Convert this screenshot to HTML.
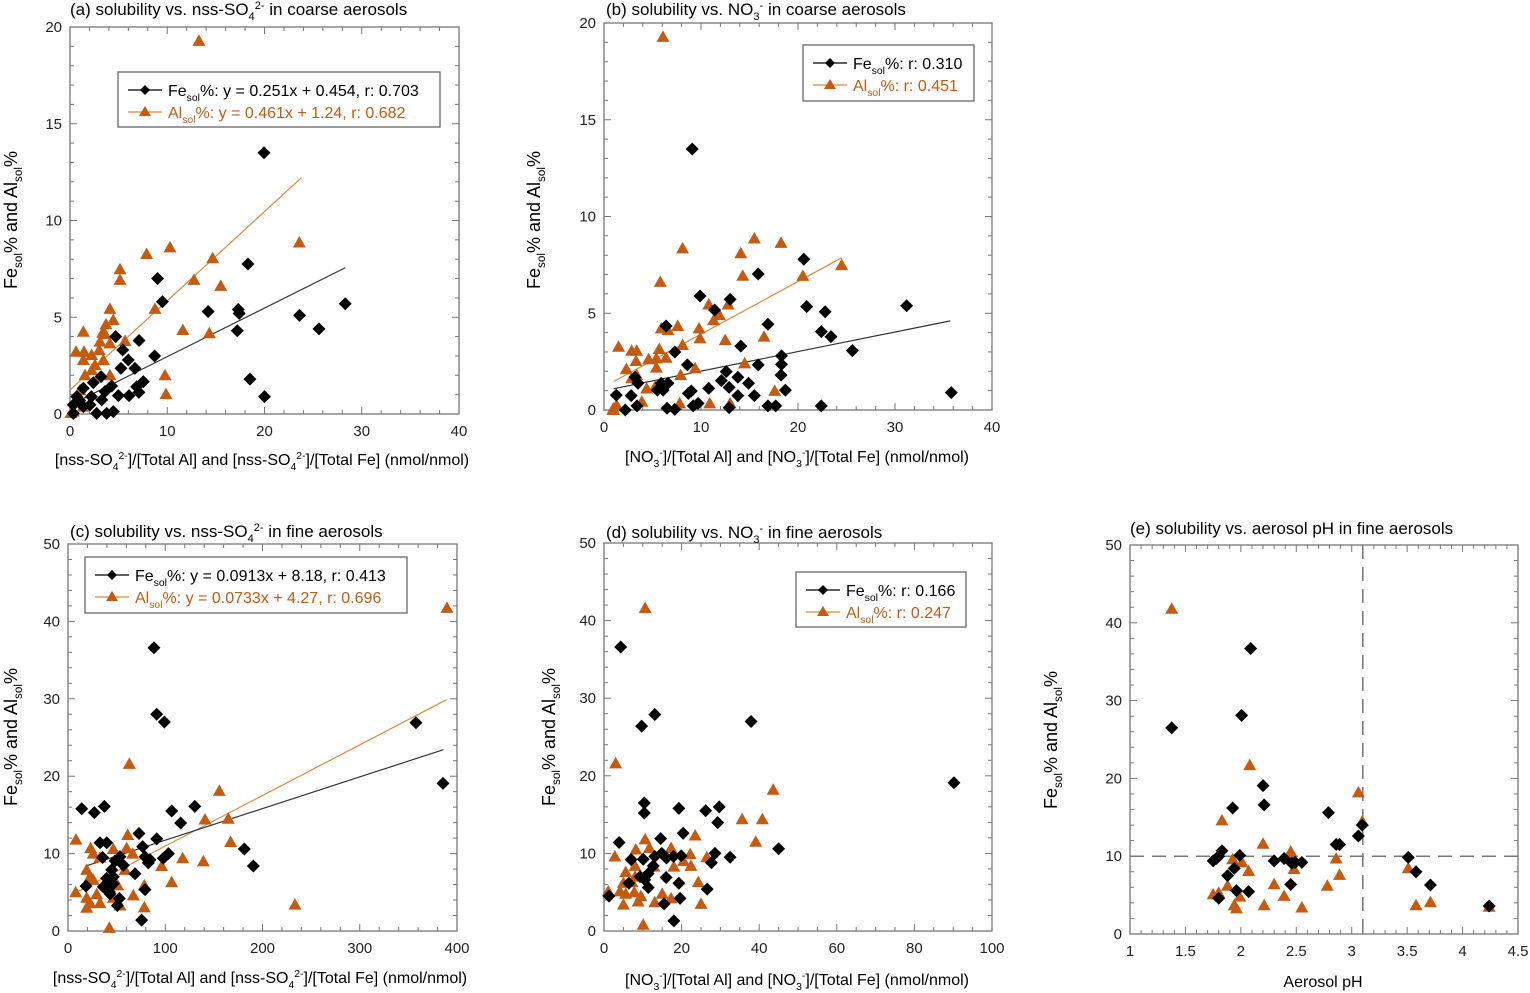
<!DOCTYPE html>
<html><head><meta charset="utf-8"><style>
html,body{margin:0;padding:0;background:#fff;}
svg{display:block;font-family:"Liberation Sans",Arial,sans-serif;}
</style></head><body>
<svg id="fig" width="1530" height="993" viewBox="0 0 1530 993" xmlns="http://www.w3.org/2000/svg"></svg>
<script>
// ---------- DATA ----------
const aFeX=[19.95,18.3,9.0,9.5,14.2,17.3,17.4,17.2,23.6,25.6,28.3,18.5,20,4.7,7.1,8.7,5.42,6.0,6.68,5.24,7.54,6.85,7.09,6.07,4.97,3.19,2.4,1.37,4.28,3.6,0.69,0.34,1.37,2.06,0.34,2.74,3.77,4.45,3.26,1.0,2.2];
const aFeY=[13.5,7.75,7.0,5.8,5.3,5.4,5.2,4.3,5.1,4.4,5.7,1.8,0.9,4.0,3.8,3.0,3.31,2.79,2.36,2.36,1.67,1.41,1.12,0.95,0.95,1.93,1.62,1.33,1.45,1.16,0.9,0.47,0.38,0.47,0.03,0.03,0.03,0.12,0.73,0.7,0.9];
const aAlX=[13.26,10.28,7.88,14.67,23.58,5.14,5.14,12.75,15.5,4.1,8.74,4.45,3.7,1.37,3.36,3.6,4.1,3.08,5.66,3.0,0.62,1.44,2.23,11.6,14.33,1.37,2.57,3.43,2.23,4.11,1.54,9.77,9.87,1.03,0.86,1.37,0.34,0.1];
const aAlY=[19.28,8.61,8.27,8.05,8.86,7.48,6.93,6.93,6.62,5.43,5.43,4.86,4.63,4.25,4.2,4.13,3.65,3.74,3.77,3.31,3.22,3.22,3.05,4.34,4.17,2.79,2.53,2.79,2.27,2.0,2.0,2.0,1.03,1.23,0.71,0.38,0.12,0.05];
const aFit=[[0.251,0.454,0,28.3],[0.461,1.24,0,23.8]];
const bFeX=[9.1,20.6,15.9,9.9,11.4,13.0,20.9,22.8,31.2,16.9,22.4,23.4,25.6,6.4,7.3,14.1,8.6,15.9,18.3,18.3,18.25,12.6,13.8,12.1,14.9,10.8,12.9,18.7,13.8,15.5,9.0,8.7,5.5,3.5,3.2,1.27,2.8,2.2,3.4,6.5,7.3,9.2,9.7,12.9,16.9,17.7,22.4,35.8,6.1,6.6,5.9];
const bFeY=[13.49,7.79,7.03,5.89,5.17,5.72,5.34,5.08,5.39,4.43,4.05,3.79,3.07,4.34,3.0,3.3,2.33,2.33,2.8,2.36,1.8,1.98,1.69,1.52,1.38,1.12,1.17,1.03,0.74,0.74,0.98,0.86,1.03,1.38,1.69,0.77,0.74,0.0,0.21,0.09,0.03,0.21,0.34,0.12,0.21,0.21,0.21,0.9,1.03,1.38,1.38];
const bAlX=[6.08,8.1,5.8,15.5,18.25,14.1,14.3,20.5,24.5,10.8,12.8,11.3,11.9,5.9,6.6,7.6,9.8,9.9,12.5,16.5,8.1,1.5,2.85,3.37,5.7,4.6,5.4,6.4,3.3,5.4,2.3,9.4,14.5,7.9,2.85,3.37,4.4,5.3,17.6,3.9,7.8,10.9,13.0,0.96,1.3,0.96];
const bAlY=[19.28,8.35,6.62,8.86,8.64,8.1,6.94,6.93,7.49,5.45,5.45,4.64,4.9,4.22,4.13,4.34,4.22,3.7,3.61,3.79,3.36,3.27,3.06,3.06,3.15,2.62,2.67,2.7,2.53,2.19,2.12,2.15,2.41,1.8,1.64,1.8,1.11,1.23,0.99,0.43,0.34,0.34,0.34,0.08,0.25,0.0];
const bFit=[[0.101,1.0,1,35.7],[0.272,1.2,1,24.5]];
const cFeX=[88.4,91.2,99.1,14.1,27.1,37.4,106.6,130.4,115.8,73.0,91.2,76.8,32.9,39.8,35.6,53.5,48.4,56.9,44.9,68.9,46.6,41.5,36.3,42.5,52.8,50.7,18.5,79.2,75.7,79.2,84.3,82.6,98.0,103.2,181.3,190.6,39.7,46.6,43.2,357.8,385.6];
const cFeY=[36.6,28.0,27.0,15.8,15.3,16.1,15.5,16.1,13.96,12.6,11.9,10.9,11.4,11.4,9.5,9.6,9.06,8.5,7.9,7.4,7.0,6.35,5.7,5.06,4.2,3.3,5.8,5.35,1.4,9.6,9.2,8.8,9.4,10.0,10.6,8.4,6.8,6.1,4.8,26.9,19.07];
const cAlX=[389.7,63.1,155.6,140.9,164.8,167.2,8.2,23.3,61.4,46.6,60.3,66.5,26.0,32.9,117.9,139.2,96.3,58.6,19.2,22.6,26.0,51.1,78.5,106.6,67.2,78.5,42.5,7.9,19.2,22.6,32.9,19.2,46.6,53.5,233.4,29.5];
const cAlY=[41.75,21.6,18.1,14.4,14.5,11.5,11.8,10.7,12.4,10.6,10.7,10.0,10.0,9.5,9.4,9.0,8.4,7.9,7.9,7.0,6.6,5.9,5.9,6.3,4.6,3.05,0.4,5.0,4.3,3.6,3.6,3.0,4.3,3.3,3.4,4.75];
const cFit=[[0.0409,7.64,18.6,386],[0.0654,4.43,7.2,389]];
const dFeX=[4.3,13.1,9.7,37.9,10.4,10.4,19.3,26.2,29.7,29.3,20.4,45.0,3.9,14.6,7.0,10.1,32.5,28.6,27.7,13.1,14.9,16.1,17.9,19.9,12.7,11.4,10.5,9.3,16.0,6.4,11.4,19.3,26.6,1.3,15.5,19.6,18.0,90.2];
const dFeY=[36.6,27.9,26.4,27.0,16.5,15.2,15.8,15.5,16.0,13.97,12.6,10.6,11.4,11.9,9.2,9.24,9.5,10.0,8.8,9.6,10.0,9.4,9.6,9.7,8.4,7.4,6.6,7.0,6.9,6.15,5.6,6.15,5.4,4.5,3.5,4.2,1.3,19.1];
const dAlX=[10.6,3.0,43.6,35.6,40.8,39.1,23.5,10.6,8.2,11.7,17.3,22.2,26.5,20.5,18.0,22.4,2.8,5.6,8.0,8.0,5.0,7.2,24.3,12.9,1.1,4.1,5.6,8.8,7.8,13.1,15.0,17.3,25.0,5.0,10.1,9.5];
const dAlY=[41.6,21.6,18.2,14.4,14.4,11.5,12.3,11.8,10.5,10.7,10.7,9.9,9.5,9.0,8.3,8.4,9.6,7.6,8.4,7.0,6.2,6.3,6.3,8.3,5.1,5.1,4.8,3.8,5.0,3.7,4.8,4.2,3.5,3.4,0.8,4.5];
const eFeX=[1.376,2.088,2.007,2.2,2.21,1.926,2.79,3.06,3.095,2.86,2.89,1.75,1.78,1.8,1.83,1.99,2.3,2.39,2.46,2.49,2.55,1.94,1.88,2.45,1.96,2.07,1.8,3.51,3.58,3.71,4.24];
const eFeY=[26.5,36.7,28.1,19.07,16.6,16.2,15.6,12.6,14.0,11.5,11.5,9.4,9.7,10.0,10.7,10.1,9.4,9.7,9.1,9.2,9.2,8.44,7.5,6.37,5.58,5.45,4.6,9.85,8.0,6.3,3.6];
const eAlX=[1.376,2.08,3.06,3.095,1.83,2.2,2.45,2.45,1.926,2.01,2.86,2.07,2.48,2.89,1.88,2.3,2.78,1.75,1.8,1.99,2.39,1.94,1.96,2.21,2.55,3.51,3.58,3.71,4.24];
const eAlY=[41.8,21.7,18.2,14.5,14.6,11.6,10.6,10.1,9.6,9.2,9.7,8.1,8.36,7.6,6.2,6.4,6.2,5.1,5.3,4.8,4.9,3.7,3.3,3.7,3.4,8.45,3.7,4.1,3.5];
const eRefX=[3.1];
const eRefY=[10];
// ---------- DRAW ----------
const NS='http://www.w3.org/2000/svg';
const svg=document.getElementById('fig');
const OR='#c55a11', ORL='#e0873a';
function mk(tag,attrs,parent){const e=document.createElementNS(NS,tag);for(const k in attrs)e.setAttribute(k,attrs[k]);(parent||svg).appendChild(e);return e;}
function panel(p){
  const g=mk('g',{});
  
  
  const sx=v=>p.L+(v-p.xmin)/(p.xmax-p.xmin)*(p.R-p.L);
  const sy=v=>p.B-(v-p.ymin)/(p.ymax-p.ymin)*(p.B-p.T);
  p.sx=sx;p.sy=sy;
  const fr=mk('rect',{x:p.L,y:p.T,width:p.R-p.L,height:p.B-p.T,fill:'none',stroke:'#777','stroke-width':1.3},g);
  
  
  const eps=1e-9;
  for(let v=p.xmin;v<=p.xmax+eps;v+=p.xminor){
    const maj=Math.abs(Math.round((v-p.xmin)/p.xmajor)*p.xmajor-(v-p.xmin))<1e-6;
    const len=maj?7:4,x=sx(v);
    mk('line',{x1:x,x2:x,y1:p.B,y2:p.B-len,stroke:'#777'},g);
    mk('line',{x1:x,x2:x,y1:p.T,y2:p.T+len,stroke:'#777'},g);
    if(maj){const t=mk('text',{x:x,y:p.B+22,'text-anchor':'middle','font-size':15,fill:'#222'},g);t.textContent=(+v.toFixed(2)).toString();
      }
  }
  for(let v=p.ymin;v<=p.ymax+eps;v+=p.yminor){
    const maj=Math.abs(Math.round(v/p.ymajor)*p.ymajor-v)<1e-6;
    const len=maj?7:4,y=sy(v);
    mk('line',{x1:p.L,x2:p.L+len,y1:y,y2:y,stroke:'#777'},g);
    mk('line',{x1:p.R,x2:p.R-len,y1:y,y2:y,stroke:'#777'},g);
    if(maj){const t=mk('text',{x:p.L-8,y:y+5,'text-anchor':'end','font-size':15,fill:'#222'},g);t.textContent=Math.round(v).toString();
      }
  }
  return g;
}
function diamonds(p,g,X,Y){for(let i=0;i<X.length;i++){const x=p.sx(X[i]),y=p.sy(Y[i]);
  const d=mk('path',{d:`M${x} ${y-6.5}L${x+6.5} ${y}L${x} ${y+6.5}L${x-6.5} ${y}Z`,fill:'#000'},g);
  }}
function tris(p,g,X,Y){for(let i=0;i<X.length;i++){const x=p.sx(X[i]),y=p.sy(Y[i]);
  const d=mk('path',{d:`M${x} ${y-6.5}L${x+6.5} ${y+5}L${x-6.5} ${y+5}Z`,fill:OR},g);
  }}
function fit(p,g,f,col,name){const [m,b,x0,x1]=f;
  const l=mk('line',{x1:p.sx(x0),y1:p.sy(m*x0+b),x2:p.sx(x1),y2:p.sy(m*x1+b),stroke:col,'stroke-width':1.2},g);
  }
function rich(x,y,parts,attrs,name){const t=mk('text',Object.assign({x:x,y:y},attrs));
  
  let shift=0;
  for(const [s,k] of parts){const ts=mk('tspan',{},t);
    let target=k==='sub'?5:k==='sup'?-6:0;
    ts.setAttribute('dy',target-shift);shift=target;
    if(k)ts.setAttribute('font-size','0.65em');ts.textContent=s;}
  return t;}
function ytitle(x,cy,name){rich(0,0,[['Fe'],['sol','sub'],['% and Al'],['sol','sub'],['%']],{'font-size':18,'text-anchor':'middle',fill:'#000',transform:`translate(${x},${cy}) rotate(-90)`},name);}
function legend(x,y,w,h,lines,name){
  const g=mk('g',{});
  mk('rect',{x:x,y:y,width:w,height:h,fill:'#fff',stroke:'#666','stroke-width':1.3},g);
  lines.forEach((ln,i)=>{const yy=y+18+i*22;const col=i?OR:'#000';
    mk('line',{x1:x+10,x2:x+44,y1:yy,y2:yy,stroke:i?ORL:'#000','stroke-width':1.2},g);
    const cx=x+27;
    if(i)mk('path',{d:`M${cx} ${yy-6}L${cx+6} ${yy+4}L${cx-6} ${yy+4}Z`,fill:OR},g);
    else mk('path',{d:`M${cx} ${yy-5}L${cx+5} ${yy}L${cx} ${yy+5}L${cx-5} ${yy}Z`,fill:'#000'},g);
    rich(x+50,yy+6,ln,{'font-size':16,fill:col},'legend-entry-'+(i?'al':'fe'));
  });
}
const P={
 a:{id:'a',L:70,R:459,T:27,B:414,xmin:0,xmax:40,ymin:0,ymax:20,xmajor:10,xminor:2,ymajor:5,yminor:1},
 b:{id:'b',L:604,R:992,T:23,B:410,xmin:0,xmax:40,ymin:0,ymax:20,xmajor:10,xminor:2,ymajor:5,yminor:1},
 c:{id:'c',L:68,R:457,T:544,B:931,xmin:0,xmax:400,ymin:0,ymax:50,xmajor:100,xminor:20,ymajor:10,yminor:2},
 d:{id:'d',L:604,R:992,T:543,B:931,xmin:0,xmax:100,ymin:0,ymax:50,xmajor:20,xminor:5,ymajor:10,yminor:2},
 e:{id:'e',L:1130,R:1518,T:545,B:934,xmin:1,xmax:4.5,ymin:0,ymax:50,xmajor:0.5,xminor:0.1,ymajor:10,yminor:2}
};
const TF=17, XF=16;
let g=panel(P.a);
fit(P.a,g,aFit[1],ORL,'al-fit-line');fit(P.a,g,aFit[0],'#333','fe-fit-line');
tris(P.a,g,aAlX,aAlY);diamonds(P.a,g,aFeX,aFeY);
legend(118,72,322,55,[[['Fe'],['sol','sub'],['%: y = 0.251x + 0.454, r: 0.703']],[['Al'],['sol','sub'],['%: y = 0.461x + 1.24, r: 0.682']]],'legend-a');
rich(70,15,[['(a) solubility vs. nss-SO'],['4','sub'],['2-','sup'],[' in coarse aerosols']],{'font-size':TF,fill:'#000'},'title-a');
rich(262,465,[['[nss-SO'],['4','sub'],['2-','sup'],[']/[Total Al] and [nss-SO'],['4','sub'],['2-','sup'],[']/[Total Fe]  (nmol/nmol)']],{'font-size':XF,'text-anchor':'middle',fill:'#000'},'x-axis-title-a');
ytitle(17,220,'y-axis-title-a');
g=panel(P.b);
fit(P.b,g,bFit[1],ORL,'al-fit-line');fit(P.b,g,bFit[0],'#333','fe-fit-line');
tris(P.b,g,bAlX,bAlY);diamonds(P.b,g,bFeX,bFeY);
legend(803,45,171,56,[[['Fe'],['sol','sub'],['%: r: 0.310']],[['Al'],['sol','sub'],['%: r: 0.451']]],'legend-b');
rich(606,15,[['(b) solubility vs. NO'],['3','sub'],['-','sup'],[' in coarse aerosols']],{'font-size':TF,fill:'#000'},'title-b');
rich(797,462,[['[NO'],['3','sub'],['-','sup'],[']/[Total Al] and [NO'],['3','sub'],['-','sup'],[']/[Total Fe] (nmol/nmol)']],{'font-size':XF,'text-anchor':'middle',fill:'#000'},'x-axis-title-b');
ytitle(540,220,'y-axis-title-b');
g=panel(P.c);
fit(P.c,g,cFit[1],ORL,'al-fit-line');fit(P.c,g,cFit[0],'#333','fe-fit-line');
tris(P.c,g,cAlX,cAlY);diamonds(P.c,g,cFeX,cFeY);
legend(85,557,322,56,[[['Fe'],['sol','sub'],['%: y = 0.0913x + 8.18, r: 0.413']],[['Al'],['sol','sub'],['%: y = 0.0733x + 4.27, r: 0.696']]],'legend-c');
rich(70,537,[['(c) solubility vs. nss-SO'],['4','sub'],['2-','sup'],[' in fine aerosols']],{'font-size':TF,fill:'#000'},'title-c');
rich(260,983,[['[nss-SO'],['4','sub'],['2-','sup'],[']/[Total Al] and [nss-SO'],['4','sub'],['2-','sup'],[']/[Total Fe]  (nmol/nmol)']],{'font-size':XF,'text-anchor':'middle',fill:'#000'},'x-axis-title-c');
ytitle(17,737,'y-axis-title-c');
g=panel(P.d);
tris(P.d,g,dAlX,dAlY);diamonds(P.d,g,dFeX,dFeY);
legend(796,572,170,55,[[['Fe'],['sol','sub'],['%: r: 0.166']],[['Al'],['sol','sub'],['%: r: 0.247']]],'legend-d');
rich(606,538,[['(d) solubility vs. NO'],['3','sub'],['-','sup'],[' in fine aerosols']],{'font-size':TF,fill:'#000'},'title-d');
rich(797,985,[['[NO'],['3','sub'],['-','sup'],[']/[Total Al] and [NO'],['3','sub'],['-','sup'],[']/[Total Fe] (nmol/nmol)']],{'font-size':XF,'text-anchor':'middle',fill:'#000'},'x-axis-title-d');
ytitle(555,737,'y-axis-title-d');
g=panel(P.e);
eRefX.forEach(v=>{const l=mk('line',{x1:P.e.sx(v),x2:P.e.sx(v),y1:P.e.T,y2:P.e.B,stroke:'#777','stroke-width':1.5,'stroke-dasharray':'14 8'},g);
  });
eRefY.forEach(v=>{const l=mk('line',{x1:P.e.L,x2:P.e.R,y1:P.e.sy(v),y2:P.e.sy(v),stroke:'#777','stroke-width':1.5,'stroke-dasharray':'14 8'},g);
  });
tris(P.e,g,eAlX,eAlY);diamonds(P.e,g,eFeX,eFeY);
rich(1130,534,[['(e) solubility vs. aerosol pH in fine aerosols']],{'font-size':TF,fill:'#000'},'title-e');
rich(1323,987,[['Aerosol pH']],{'font-size':XF,'text-anchor':'middle',fill:'#000'},'x-axis-title-e');
ytitle(1057,740,'y-axis-title-e');
</script>
</body></html>
